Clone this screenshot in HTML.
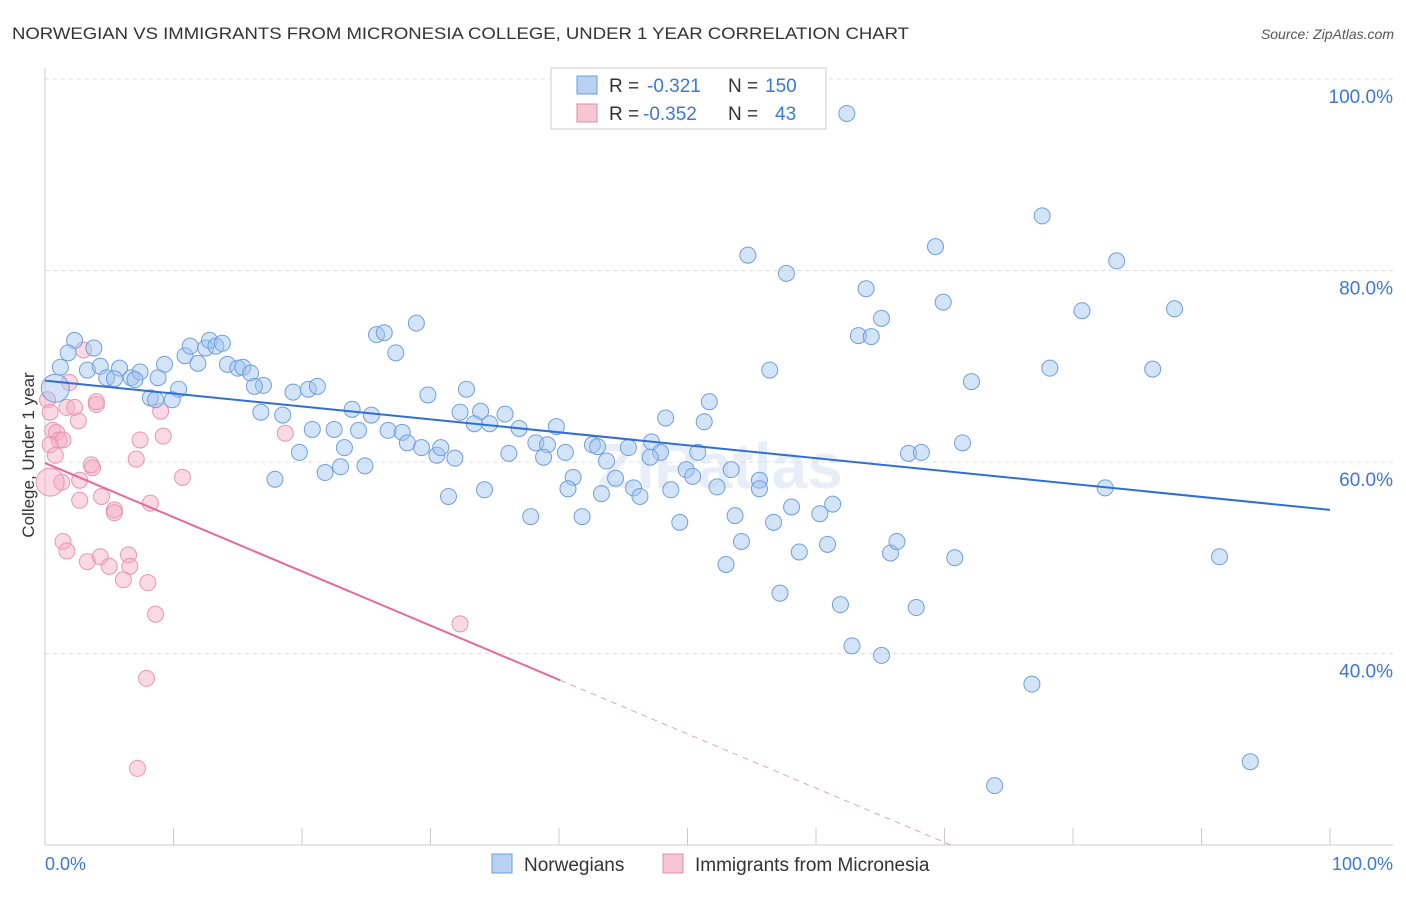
<!DOCTYPE html>
<html><head><meta charset="utf-8"><style>
body{margin:0;background:#fff;font-family:"Liberation Sans",sans-serif;}
svg text{font-family:"Liberation Sans",sans-serif;}
</style></head><body>
<svg id="chart" width="1406" height="892">
<text x="12" y="39" font-size="17" fill="#333" textLength="897" lengthAdjust="spacingAndGlyphs">NORWEGIAN VS IMMIGRANTS FROM MICRONESIA COLLEGE, UNDER 1 YEAR CORRELATION CHART</text>
<text x="1394" y="39" font-size="14" fill="#555" font-style="italic" text-anchor="end">Source: ZipAtlas.com</text>
<text x="720" y="488" font-size="64" fill="#d8e4f4" font-weight="bold" text-anchor="middle" opacity="0.6">ZIPatlas</text>
<g id="grid"></g>
<g id="axes"></g>
<g id="marks"></g>
<text transform="translate(34,455) rotate(-90)" font-size="17" fill="#333" text-anchor="middle">College, Under 1 year</text>
<g>
<rect x="551" y="68" width="275" height="61" fill="#fff" stroke="#ccc"/>
<rect x="577" y="76" width="20" height="18" fill="#b9d2f3" stroke="#6a9fe0"/>
<text x="609" y="92" font-size="19" fill="#333">R = </text><text x="647" y="92" font-size="19" fill="#3b78d8">-0.321</text>
<text x="728" y="92" font-size="19" fill="#333">N = </text><text x="765" y="92" font-size="19" fill="#3b78d8">150</text>
<rect x="577" y="104" width="20" height="18" fill="#f7c6d5" stroke="#e888a8"/>
<text x="609" y="120" font-size="19" fill="#333">R = </text><text x="643" y="120" font-size="19" fill="#3b78d8">-0.352</text>
<text x="728" y="120" font-size="19" fill="#333">N = </text><text x="775" y="120" font-size="19" fill="#3b78d8">43</text>
</g>
<g>
<rect x="492" y="854" width="20" height="19" fill="#b9d2f3" stroke="#6a9fe0"/>
<text x="524" y="871" font-size="19" fill="#333">Norwegians</text>
<rect x="663" y="854" width="20" height="19" fill="#f7c6d5" stroke="#e888a8"/>
<text x="695" y="871" font-size="19" fill="#333">Immigrants from Micronesia</text>
</g>
</svg>
<script>
const yTicks=[100,80,60,40];
const yTickLabels=["100.0%","80.0%","60.0%","40.0%"];
const blueX=[62.4,77.6,69.3,54.7,83.4,57.7,63.9,69.9,80.7,87.9,65.1,63.3,64.3,28.9,25.8,26.4,27.3,78.2,86.2,56.4,72.1,2.3,1.8,3.8,1.2,3.3,4.3,4.8,5.8,5.4,6.7,7.4,7.0,9.3,8.8,10.9,11.3,11.9,12.5,12.8,13.3,13.8,14.2,15.0,15.4,16.0,17.0,16.3,10.4,8.2,9.9,8.6,19.3,20.5,21.2,29.8,32.8,51.7,16.8,18.5,23.9,25.4,32.3,33.9,35.8,34.6,33.4,20.8,22.5,24.4,26.7,27.8,28.2,29.3,30.5,30.8,31.9,36.9,38.2,39.1,39.8,40.5,38.8,36.1,42.6,43.0,45.4,47.2,47.9,48.3,51.3,50.8,47.1,23.3,19.8,23.0,24.9,21.8,17.9,43.7,49.9,50.4,53.4,52.3,55.6,55.6,44.4,41.1,40.7,45.8,46.3,48.7,43.3,34.2,31.4,37.8,41.8,49.4,53.7,56.7,58.1,60.3,61.3,67.2,68.2,71.4,82.5,54.2,58.7,60.9,65.8,66.3,70.8,53.0,57.2,61.9,67.8,62.8,65.1,91.4,76.8,93.8,73.9];
const blueY=[96.4,85.7,82.5,81.6,81.0,79.7,78.1,76.7,75.8,76.0,75.0,73.2,73.1,74.5,73.3,73.5,71.4,69.8,69.7,69.6,68.4,72.7,71.4,71.9,69.9,69.6,70.0,68.8,69.8,68.7,68.8,69.4,68.6,70.2,68.8,71.1,72.1,70.3,71.9,72.7,72.1,72.4,70.2,69.8,69.9,69.3,68.0,67.9,67.6,66.7,66.5,66.5,67.3,67.6,67.9,67.0,67.6,66.3,65.2,64.9,65.5,64.9,65.2,65.3,65.0,64.0,64.0,63.4,63.4,63.3,63.3,63.1,62.0,61.5,60.7,61.5,60.4,63.5,62.0,61.8,63.7,61.0,60.5,60.9,61.8,61.6,61.5,62.1,61.0,64.6,64.2,61.0,60.5,61.5,61.0,59.5,59.6,58.9,58.2,60.1,59.2,58.5,59.2,57.4,58.1,57.2,58.3,58.4,57.2,57.3,56.4,57.1,56.7,57.1,56.4,54.3,54.3,53.7,54.4,53.7,55.3,54.6,55.6,60.9,61.0,62.0,57.3,51.7,50.6,51.4,50.5,51.7,50.0,49.3,46.3,45.1,44.8,40.8,39.8,50.1,36.8,28.7,26.2];
const pinkX=[0.2,0.6,0.9,1.1,1.4,0.4,0.4,0.8,1.9,1.7,2.3,2.6,1.3,2.7,2.7,3.0,4.0,4.0,3.7,3.6,4.4,5.4,5.4,7.4,7.1,9.0,9.2,10.7,8.2,1.4,1.7,3.3,4.3,5.0,6.5,6.6,6.1,8.0,8.6,7.9,7.2,18.7,32.3];
const pinkY=[66.5,63.3,63.1,62.3,62.3,65.2,61.8,60.7,68.3,65.7,65.7,64.3,57.9,58.1,56.0,71.7,66.0,66.3,59.4,59.7,56.4,55.0,54.7,62.3,60.3,65.3,62.7,58.4,55.7,51.7,50.7,49.6,50.1,49.1,50.3,49.1,47.7,47.4,44.1,37.4,28.0,63.0,43.1];
const bigBlue=[0.8,67.7];
const bigPink=[0.4,57.9];
const blueTrend=[68.5,55.0];
const pinkTrend=[59.9,-0.566];
const pinkSolidEnd=40.1;

const NS="http://www.w3.org/2000/svg";
const X=v=>45+v*12.85;
const Y=v=>79+(100-v)*9.575;
function mk(tag,attrs,parent){const e=document.createElementNS(NS,tag);for(const k in attrs)e.setAttribute(k,attrs[k]);parent.appendChild(e);return e;}
const grid=document.getElementById('grid'),axes=document.getElementById('axes'),marks=document.getElementById('marks');
yTicks.forEach((t,i)=>{
  const l=mk('line',{x1:45,x2:1393,y1:Y(t),y2:Y(t),stroke:'#ddd','stroke-dasharray':'4,4'},grid);
  
  
  const tx=mk('text',{x:1393,y:Y(t)+24,'font-size':19,fill:'#3b78d8','text-anchor':'end'},axes);
  tx.textContent=yTickLabels[i];
  
  
});
const la=mk('line',{x1:45,x2:45,y1:68,y2:845,stroke:'#ccc'},axes);


const ba=mk('line',{x1:45,x2:1393,y1:845,y2:845,stroke:'#ccc'},axes);


for(let i=0;i<=10;i++){
  const tk=mk('line',{x1:X(i*10),x2:X(i*10),y1:828,y2:845,stroke:'#ccc'},axes);
  
  
}
const x0=mk('text',{x:45,y:870,'font-size':18,fill:'#3b78d8'},axes);x0.textContent='0.0%';


const x1=mk('text',{x:1393,y:870,'font-size':18,fill:'#3b78d8','text-anchor':'end'},axes);x1.textContent='100.0%';


pinkX.forEach((v,i)=>{
  const c=mk('circle',{cx:X(v),cy:Y(pinkY[i]),r:8,fill:'rgba(244,170,195,0.45)',stroke:'#ea94b2','stroke-width':1},marks);
  
  
});
blueX.forEach((v,i)=>{
  const c=mk('circle',{cx:X(v),cy:Y(blueY[i]),r:8,fill:'rgba(160,195,240,0.45)',stroke:'#6e9fdf','stroke-width':1},marks);
  
  
});
const bb=mk('circle',{cx:X(bigBlue[0]),cy:Y(bigBlue[1]),r:14,fill:'rgba(160,195,240,0.45)',stroke:'#6e9fdf'},marks);


const bp=mk('circle',{cx:X(bigPink[0]),cy:Y(bigPink[1]),r:14,fill:'rgba(244,170,195,0.45)',stroke:'#ea94b2'},marks);


const bt=mk('line',{x1:X(0),y1:Y(blueTrend[0]),x2:X(100),y2:Y(blueTrend[1]),stroke:'#2f6fd6','stroke-width':2},marks);


const pe=pinkTrend[0]+pinkTrend[1]*pinkSolidEnd;
const pt=mk('line',{x1:X(0),y1:Y(pinkTrend[0]),x2:X(pinkSolidEnd),y2:Y(pe),stroke:'#e8689a','stroke-width':2},marks);


const xEnd=(20-pinkTrend[0])/pinkTrend[1];
const pd=mk('line',{x1:X(pinkSolidEnd),y1:Y(pe),x2:X(xEnd),y2:Y(20),stroke:'#e8a0bc','stroke-width':1,'stroke-dasharray':'6,5'},marks);


</script>
</body></html>
